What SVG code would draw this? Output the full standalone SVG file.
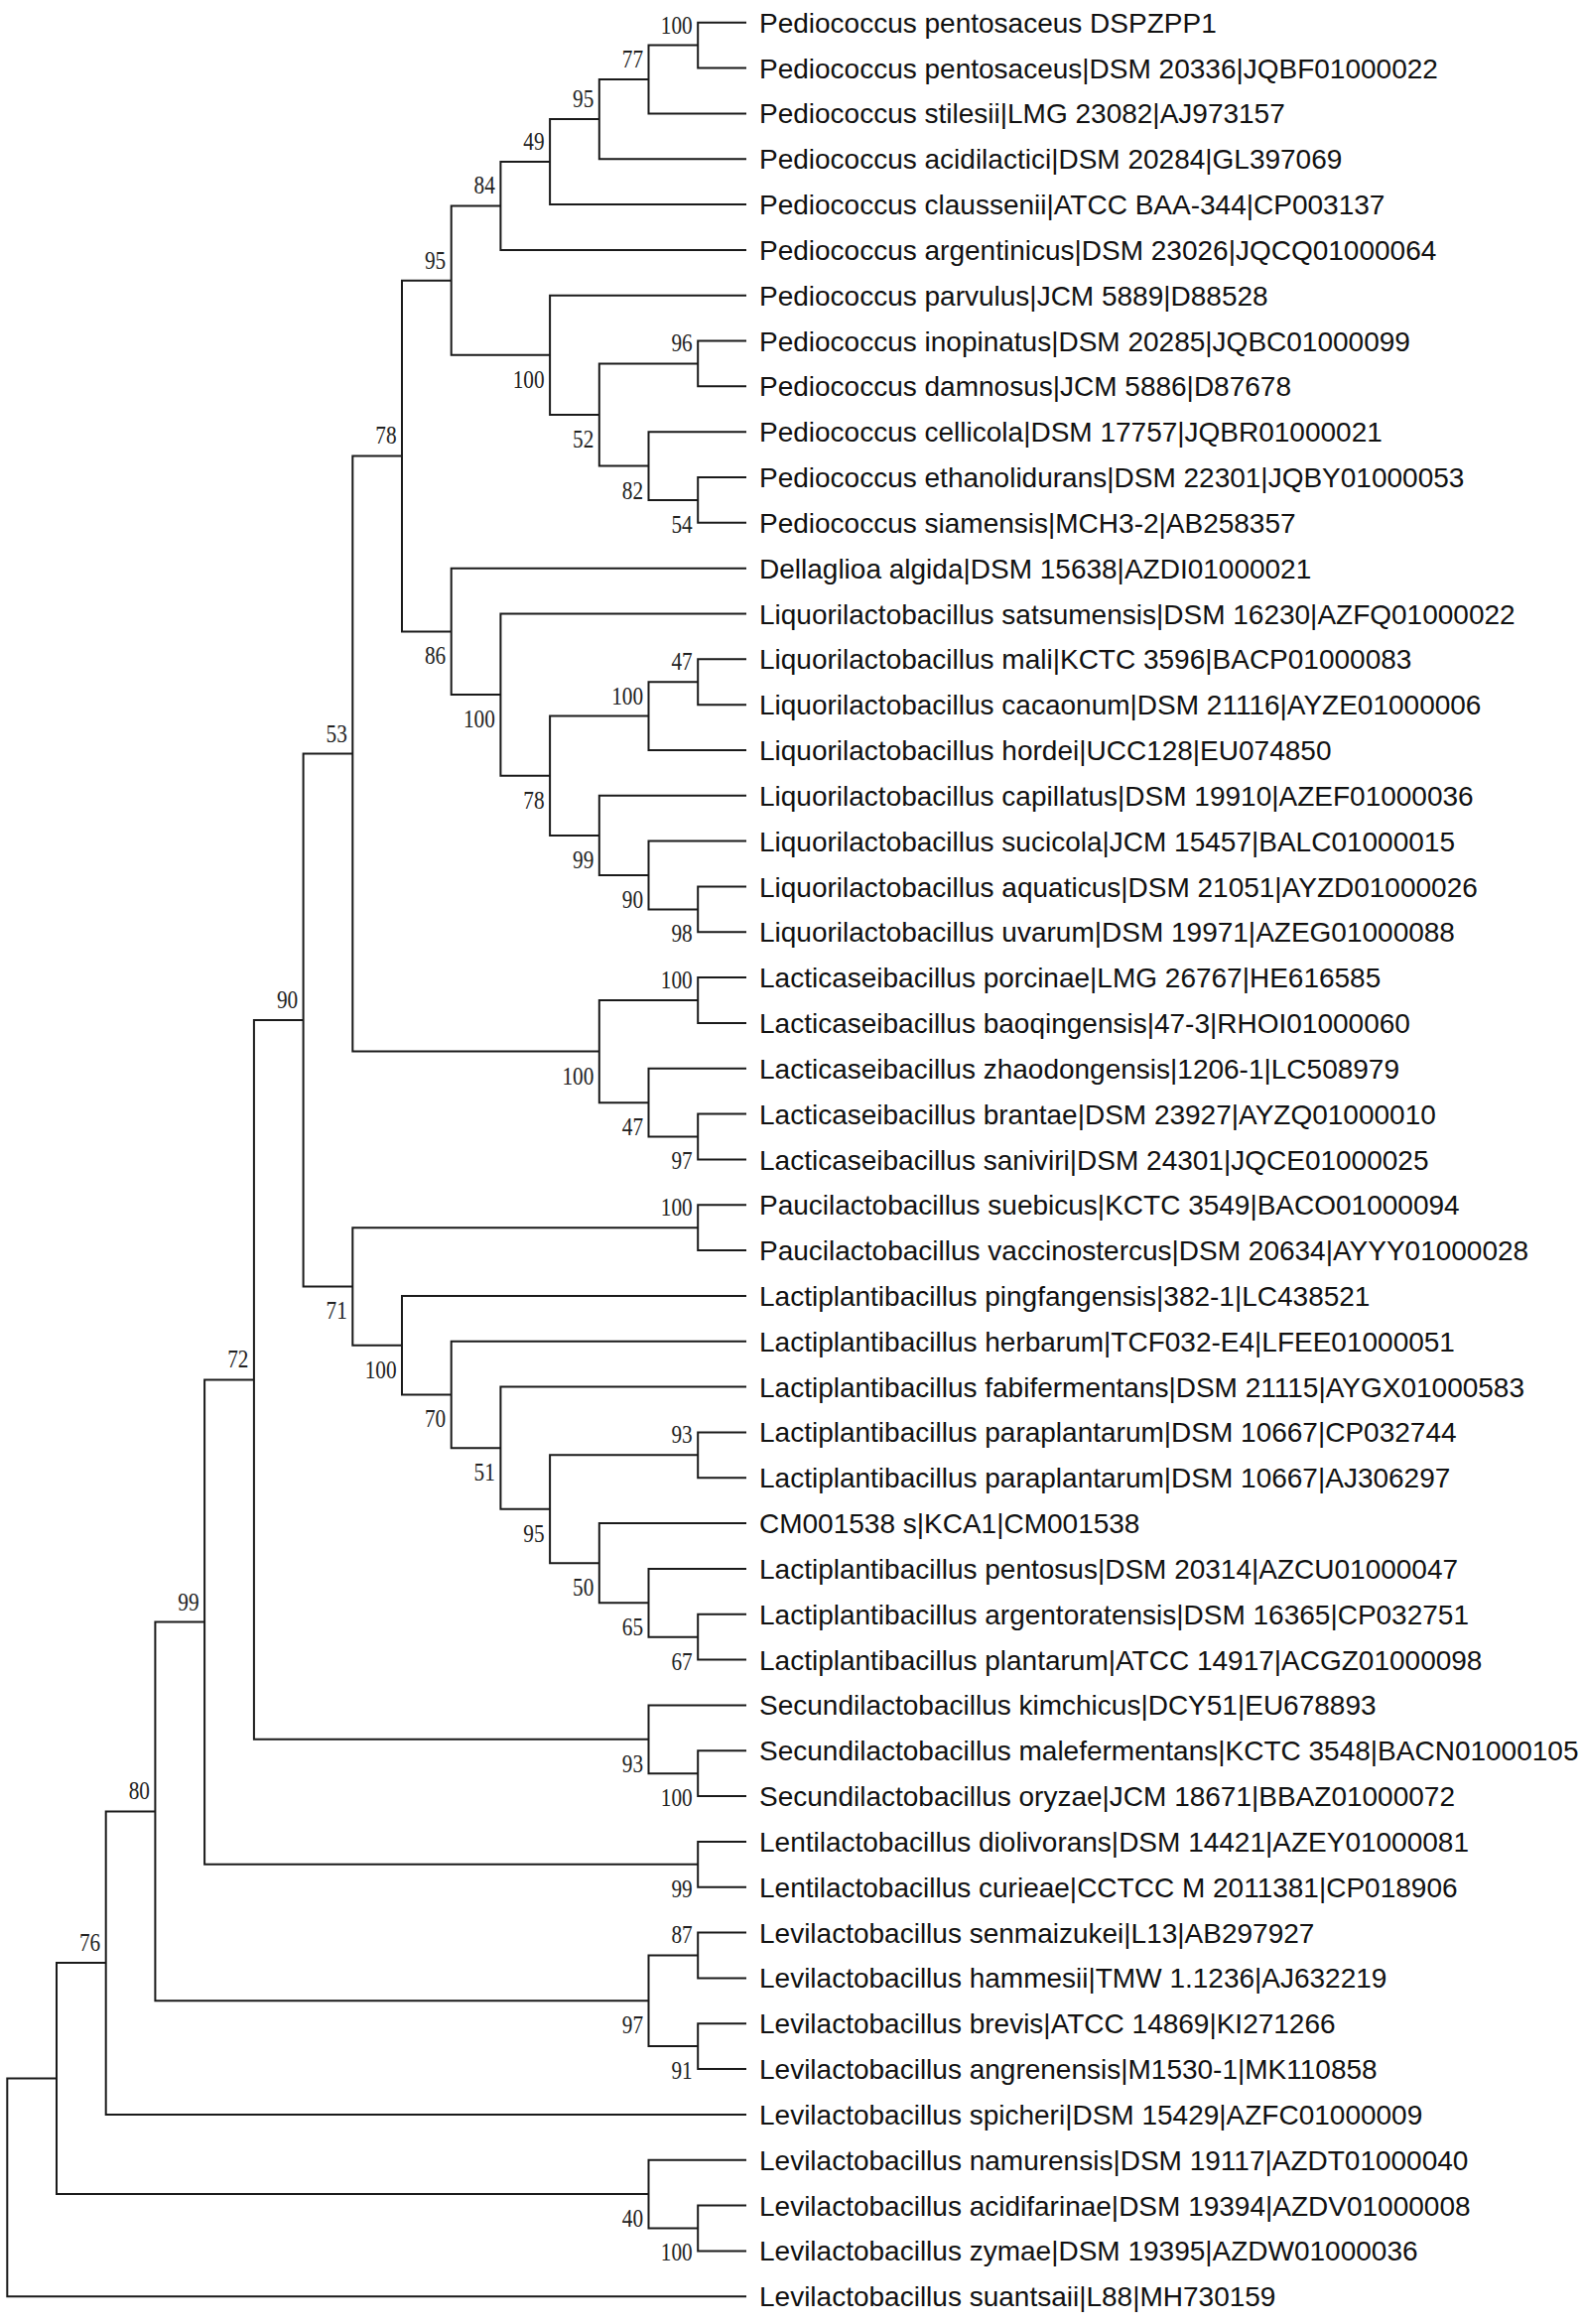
<svg xmlns="http://www.w3.org/2000/svg" width="1595" height="2342" viewBox="0 0 1595 2342">
<style>
.br{fill:none;stroke:#1a1a1a;stroke-width:2;stroke-linejoin:miter}
.lf{font-family:"Liberation Sans",Arial,sans-serif;font-size:28px;fill:#111}
.bs{font-family:"Liberation Serif","Times New Roman",serif;font-size:25px;fill:#222;text-anchor:end}
</style>
<rect width="1595" height="2342" fill="#fff"/>
<g id="connectors">
<path class="br" d="M752 22.7H703.2V68.5H752"/>
<path class="br" d="M703.2 45.6H653.5V114.4H752"/>
<path class="br" d="M653.5 80H603.8V160.2H752"/>
<path class="br" d="M603.8 120.1H554.1V206H752"/>
<path class="br" d="M554.1 163.1H504.4V251.9H752"/>
<path class="br" d="M752 343.5H703.2V389.3H752"/>
<path class="br" d="M752 481H703.2V526.8H752"/>
<path class="br" d="M752 435.2H653.5V503.9H703.2"/>
<path class="br" d="M703.2 366.4H603.8V469.6H653.5"/>
<path class="br" d="M752 297.7H554.1V418H603.8"/>
<path class="br" d="M504.4 207.5H454.7V357.8H554.1"/>
<path class="br" d="M752 664.3H703.2V710.2H752"/>
<path class="br" d="M703.2 687.2H653.5V756H752"/>
<path class="br" d="M752 893.5H703.2V939.3H752"/>
<path class="br" d="M752 847.6H653.5V916.4H703.2"/>
<path class="br" d="M752 801.8H603.8V882H653.5"/>
<path class="br" d="M653.5 721.6H554.1V841.9H603.8"/>
<path class="br" d="M752 618.5H504.4V781.8H554.1"/>
<path class="br" d="M752 572.7H454.7V700.1H504.4"/>
<path class="br" d="M454.7 282.7H405V636.4H454.7"/>
<path class="br" d="M752 985.1H703.2V1031H752"/>
<path class="br" d="M752 1122.6H703.2V1168.5H752"/>
<path class="br" d="M752 1076.8H653.5V1145.5H703.2"/>
<path class="br" d="M703.2 1008H603.8V1111.2H653.5"/>
<path class="br" d="M405 459.5H355.3V1059.6H603.8"/>
<path class="br" d="M752 1214.3H703.2V1260.1H752"/>
<path class="br" d="M752 1443.4H703.2V1489.3H752"/>
<path class="br" d="M752 1626.8H703.2V1672.6H752"/>
<path class="br" d="M752 1580.9H653.5V1649.7H703.2"/>
<path class="br" d="M752 1535.1H603.8V1615.3H653.5"/>
<path class="br" d="M703.2 1466.3H554.1V1575.2H603.8"/>
<path class="br" d="M752 1397.6H504.4V1520.8H554.1"/>
<path class="br" d="M752 1351.8H454.7V1459.2H504.4"/>
<path class="br" d="M752 1305.9H405V1405.5H454.7"/>
<path class="br" d="M703.2 1237.2H355.3V1355.7H405"/>
<path class="br" d="M355.3 759.6H305.6V1296.5H355.3"/>
<path class="br" d="M752 1764.2H703.2V1810.1H752"/>
<path class="br" d="M752 1718.4H653.5V1787.2H703.2"/>
<path class="br" d="M305.6 1028H255.9V1752.8H653.5"/>
<path class="br" d="M752 1855.9H703.2V1901.7H752"/>
<path class="br" d="M255.9 1390.4H206.1V1878.8H703.2"/>
<path class="br" d="M752 1947.6H703.2V1993.4H752"/>
<path class="br" d="M752 2039.2H703.2V2085.1H752"/>
<path class="br" d="M703.2 1970.5H653.5V2062.1H703.2"/>
<path class="br" d="M206.1 1634.6H156.4V2016.3H653.5"/>
<path class="br" d="M156.4 1825.4H106.7V2130.9H752"/>
<path class="br" d="M752 2222.5H703.2V2268.4H752"/>
<path class="br" d="M752 2176.7H653.5V2245.5H703.2"/>
<path class="br" d="M106.7 1978.1H57V2211.1H653.5"/>
<path class="br" d="M57 2094.6H7.3V2314.2H752"/>
</g>
<g id="leaves">
<g id="leaf-01"><text class="lf" x="765" y="32.7">Pediococcus pentosaceus DSPZPP1</text></g>
<g id="leaf-02"><text class="lf" x="765" y="78.5">Pediococcus pentosaceus|DSM 20336|JQBF01000022</text></g>
<g id="leaf-03"><text class="lf" x="765" y="124.4">Pediococcus stilesii|LMG 23082|AJ973157</text></g>
<g id="leaf-04"><text class="lf" x="765" y="170.2">Pediococcus acidilactici|DSM 20284|GL397069</text></g>
<g id="leaf-05"><text class="lf" x="765" y="216">Pediococcus claussenii|ATCC BAA-344|CP003137</text></g>
<g id="leaf-06"><text class="lf" x="765" y="261.9">Pediococcus argentinicus|DSM 23026|JQCQ01000064</text></g>
<g id="leaf-07"><text class="lf" x="765" y="307.7">Pediococcus parvulus|JCM 5889|D88528</text></g>
<g id="leaf-08"><text class="lf" x="765" y="353.5">Pediococcus inopinatus|DSM 20285|JQBC01000099</text></g>
<g id="leaf-09"><text class="lf" x="765" y="399.3">Pediococcus damnosus|JCM 5886|D87678</text></g>
<g id="leaf-10"><text class="lf" x="765" y="445.2">Pediococcus cellicola|DSM 17757|JQBR01000021</text></g>
<g id="leaf-11"><text class="lf" x="765" y="491">Pediococcus ethanolidurans|DSM 22301|JQBY01000053</text></g>
<g id="leaf-12"><text class="lf" x="765" y="536.8">Pediococcus siamensis|MCH3-2|AB258357</text></g>
<g id="leaf-13"><text class="lf" x="765" y="582.7">Dellaglioa algida|DSM 15638|AZDI01000021</text></g>
<g id="leaf-14"><text class="lf" x="765" y="628.5">Liquorilactobacillus satsumensis|DSM 16230|AZFQ01000022</text></g>
<g id="leaf-15"><text class="lf" x="765" y="674.3">Liquorilactobacillus mali|KCTC 3596|BACP01000083</text></g>
<g id="leaf-16"><text class="lf" x="765" y="720.2">Liquorilactobacillus cacaonum|DSM 21116|AYZE01000006</text></g>
<g id="leaf-17"><text class="lf" x="765" y="766">Liquorilactobacillus hordei|UCC128|EU074850</text></g>
<g id="leaf-18"><text class="lf" x="765" y="811.8">Liquorilactobacillus capillatus|DSM 19910|AZEF01000036</text></g>
<g id="leaf-19"><text class="lf" x="765" y="857.6">Liquorilactobacillus sucicola|JCM 15457|BALC01000015</text></g>
<g id="leaf-20"><text class="lf" x="765" y="903.5">Liquorilactobacillus aquaticus|DSM 21051|AYZD01000026</text></g>
<g id="leaf-21"><text class="lf" x="765" y="949.3">Liquorilactobacillus uvarum|DSM 19971|AZEG01000088</text></g>
<g id="leaf-22"><text class="lf" x="765" y="995.1">Lacticaseibacillus porcinae|LMG 26767|HE616585</text></g>
<g id="leaf-23"><text class="lf" x="765" y="1041">Lacticaseibacillus baoqingensis|47-3|RHOI01000060</text></g>
<g id="leaf-24"><text class="lf" x="765" y="1086.8">Lacticaseibacillus zhaodongensis|1206-1|LC508979</text></g>
<g id="leaf-25"><text class="lf" x="765" y="1132.6">Lacticaseibacillus brantae|DSM 23927|AYZQ01000010</text></g>
<g id="leaf-26"><text class="lf" x="765" y="1178.5">Lacticaseibacillus saniviri|DSM 24301|JQCE01000025</text></g>
<g id="leaf-27"><text class="lf" x="765" y="1224.3">Paucilactobacillus suebicus|KCTC 3549|BACO01000094</text></g>
<g id="leaf-28"><text class="lf" x="765" y="1270.1">Paucilactobacillus vaccinostercus|DSM 20634|AYYY01000028</text></g>
<g id="leaf-29"><text class="lf" x="765" y="1315.9">Lactiplantibacillus pingfangensis|382-1|LC438521</text></g>
<g id="leaf-30"><text class="lf" x="765" y="1361.8">Lactiplantibacillus herbarum|TCF032-E4|LFEE01000051</text></g>
<g id="leaf-31"><text class="lf" x="765" y="1407.6">Lactiplantibacillus fabifermentans|DSM 21115|AYGX01000583</text></g>
<g id="leaf-32"><text class="lf" x="765" y="1453.4">Lactiplantibacillus paraplantarum|DSM 10667|CP032744</text></g>
<g id="leaf-33"><text class="lf" x="765" y="1499.3">Lactiplantibacillus paraplantarum|DSM 10667|AJ306297</text></g>
<g id="leaf-34"><text class="lf" x="765" y="1545.1">CM001538 s|KCA1|CM001538</text></g>
<g id="leaf-35"><text class="lf" x="765" y="1590.9">Lactiplantibacillus pentosus|DSM 20314|AZCU01000047</text></g>
<g id="leaf-36"><text class="lf" x="765" y="1636.8">Lactiplantibacillus argentoratensis|DSM 16365|CP032751</text></g>
<g id="leaf-37"><text class="lf" x="765" y="1682.6">Lactiplantibacillus plantarum|ATCC 14917|ACGZ01000098</text></g>
<g id="leaf-38"><text class="lf" x="765" y="1728.4">Secundilactobacillus kimchicus|DCY51|EU678893</text></g>
<g id="leaf-39"><text class="lf" x="765" y="1774.2">Secundilactobacillus malefermentans|KCTC 3548|BACN01000105</text></g>
<g id="leaf-40"><text class="lf" x="765" y="1820.1">Secundilactobacillus oryzae|JCM 18671|BBAZ01000072</text></g>
<g id="leaf-41"><text class="lf" x="765" y="1865.9">Lentilactobacillus diolivorans|DSM 14421|AZEY01000081</text></g>
<g id="leaf-42"><text class="lf" x="765" y="1911.7">Lentilactobacillus curieae|CCTCC M 2011381|CP018906</text></g>
<g id="leaf-43"><text class="lf" x="765" y="1957.6">Levilactobacillus senmaizukei|L13|AB297927</text></g>
<g id="leaf-44"><text class="lf" x="765" y="2003.4">Levilactobacillus hammesii|TMW 1.1236|AJ632219</text></g>
<g id="leaf-45"><text class="lf" x="765" y="2049.2">Levilactobacillus brevis|ATCC 14869|KI271266</text></g>
<g id="leaf-46"><text class="lf" x="765" y="2095.1">Levilactobacillus angrenensis|M1530-1|MK110858</text></g>
<g id="leaf-47"><text class="lf" x="765" y="2140.9">Levilactobacillus spicheri|DSM 15429|AZFC01000009</text></g>
<g id="leaf-48"><text class="lf" x="765" y="2186.7">Levilactobacillus namurensis|DSM 19117|AZDT01000040</text></g>
<g id="leaf-49"><text class="lf" x="765" y="2232.5">Levilactobacillus acidifarinae|DSM 19394|AZDV01000008</text></g>
<g id="leaf-50"><text class="lf" x="765" y="2278.4">Levilactobacillus zymae|DSM 19395|AZDW01000036</text></g>
<g id="leaf-51"><text class="lf" x="765" y="2324.2">Levilactobacillus suantsaii|L88|MH730159</text></g>
</g>
<g id="internal-nodes" transform="scale(0.85 1)">
<g id="node-01"><text class="bs" x="820.8" y="33.6">100</text></g>
<g id="node-02"><text class="bs" x="762.4" y="68">77</text></g>
<g id="node-03"><text class="bs" x="703.9" y="108.1">95</text></g>
<g id="node-04"><text class="bs" x="645.4" y="151.1">49</text></g>
<g id="node-05"><text class="bs" x="586.9" y="195.5">84</text></g>
<g id="node-06"><text class="bs" x="528.5" y="270.7">95</text></g>
<g id="node-07"><text class="bs" x="645.4" y="390.8">100</text></g>
<g id="node-08"><text class="bs" x="820.8" y="354.4">96</text></g>
<g id="node-09"><text class="bs" x="703.9" y="451">52</text></g>
<g id="node-10"><text class="bs" x="762.4" y="502.6">82</text></g>
<g id="node-11"><text class="bs" x="820.8" y="536.9">54</text></g>
<g id="node-12"><text class="bs" x="470" y="447.5">78</text></g>
<g id="node-13"><text class="bs" x="528.5" y="669.4">86</text></g>
<g id="node-14"><text class="bs" x="586.9" y="733.1">100</text></g>
<g id="node-15"><text class="bs" x="645.4" y="814.8">78</text></g>
<g id="node-16"><text class="bs" x="762.4" y="709.6">100</text></g>
<g id="node-17"><text class="bs" x="820.8" y="675.2">47</text></g>
<g id="node-18"><text class="bs" x="703.9" y="874.9">99</text></g>
<g id="node-19"><text class="bs" x="762.4" y="915">90</text></g>
<g id="node-20"><text class="bs" x="820.8" y="949.4">98</text></g>
<g id="node-21"><text class="bs" x="411.5" y="747.6">53</text></g>
<g id="node-22"><text class="bs" x="703.9" y="1092.6">100</text></g>
<g id="node-23"><text class="bs" x="820.8" y="996">100</text></g>
<g id="node-24"><text class="bs" x="762.4" y="1144.2">47</text></g>
<g id="node-25"><text class="bs" x="820.8" y="1178.5">97</text></g>
<g id="node-26"><text class="bs" x="353.1" y="1016">90</text></g>
<g id="node-27"><text class="bs" x="411.5" y="1329.5">71</text></g>
<g id="node-28"><text class="bs" x="820.8" y="1225.2">100</text></g>
<g id="node-29"><text class="bs" x="470" y="1388.7">100</text></g>
<g id="node-30"><text class="bs" x="528.5" y="1438.5">70</text></g>
<g id="node-31"><text class="bs" x="586.9" y="1492.2">51</text></g>
<g id="node-32"><text class="bs" x="645.4" y="1553.8">95</text></g>
<g id="node-33"><text class="bs" x="820.8" y="1454.3">93</text></g>
<g id="node-34"><text class="bs" x="703.9" y="1608.2">50</text></g>
<g id="node-35"><text class="bs" x="762.4" y="1648.3">65</text></g>
<g id="node-36"><text class="bs" x="820.8" y="1682.7">67</text></g>
<g id="node-37"><text class="bs" x="294.6" y="1378.4">72</text></g>
<g id="node-38"><text class="bs" x="762.4" y="1785.8">93</text></g>
<g id="node-39"><text class="bs" x="820.8" y="1820.2">100</text></g>
<g id="node-40"><text class="bs" x="236" y="1622.6">99</text></g>
<g id="node-41"><text class="bs" x="820.8" y="1911.8">99</text></g>
<g id="node-42"><text class="bs" x="177.5" y="1813.4">80</text></g>
<g id="node-43"><text class="bs" x="762.4" y="2049.3">97</text></g>
<g id="node-44"><text class="bs" x="820.8" y="1958.5">87</text></g>
<g id="node-45"><text class="bs" x="820.8" y="2095.1">91</text></g>
<g id="node-46"><text class="bs" x="119.1" y="1966.1">76</text></g>
<g id="node-48"><text class="bs" x="762.4" y="2244.1">40</text></g>
<g id="node-49"><text class="bs" x="820.8" y="2278.5">100</text></g>
</g>
</svg>
